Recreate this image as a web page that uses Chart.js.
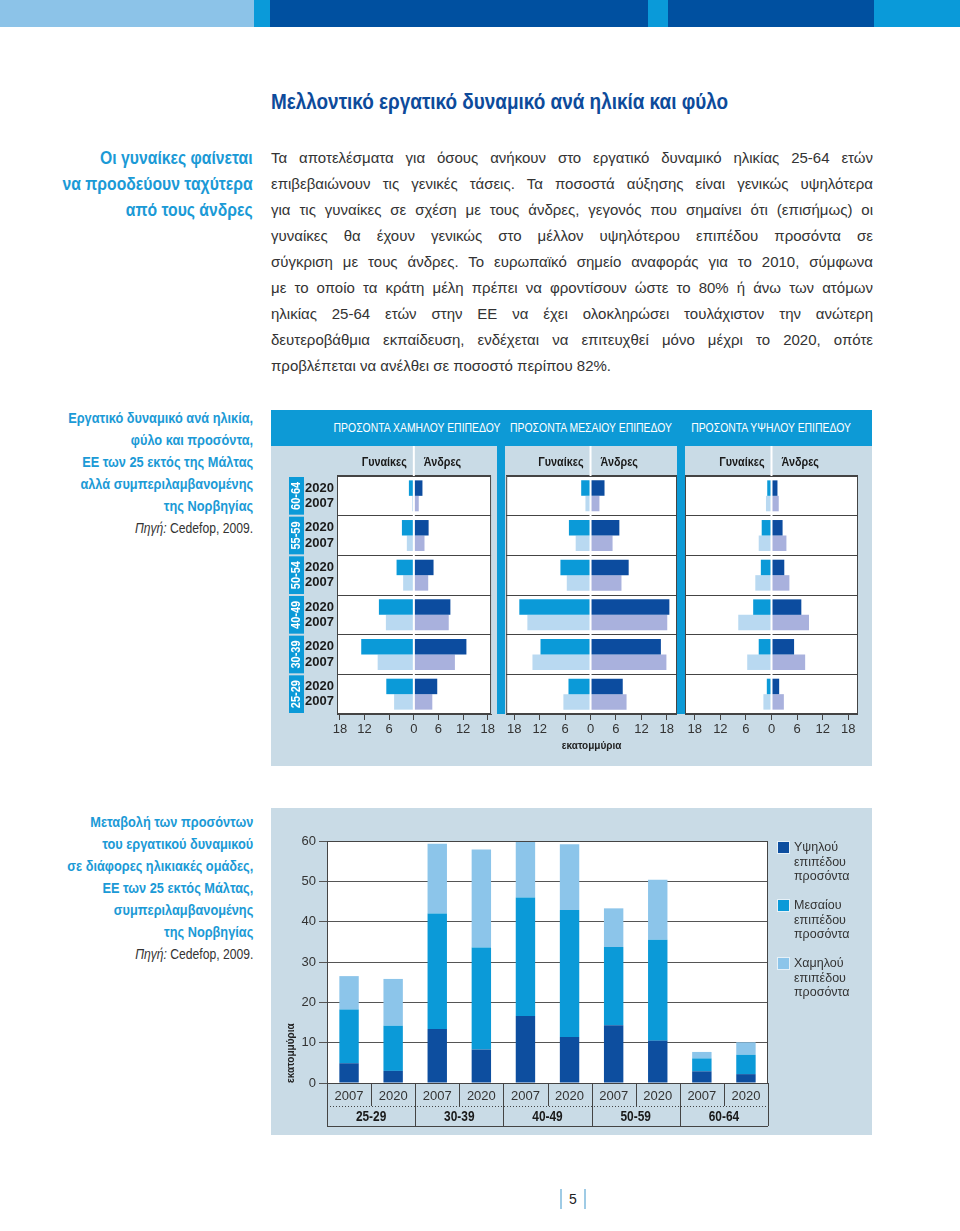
<!DOCTYPE html>
<html lang="el">
<head>
<meta charset="utf-8">
<title>Μελλοντικό εργατικό δυναμικό ανά ηλικία και φύλο</title>
<script src="https://cdn.jsdelivr.net/npm/chart.js@4.4.1/dist/chart.umd.min.js"></script>
<style>
  body { margin: 0; width: 960px; height: 1231px; position: relative; overflow: hidden; background: #fff;
         font-family: 'Liberation Sans', Arial, sans-serif; color: #333; }
  .abs { position: absolute; }
  #bar div { position: absolute; top: 0; height: 27px; }
  #title { left: 271px; top: 89px; font-size: 22px; font-weight: bold; color: #0d4b9b; white-space: nowrap;
           transform: scaleX(0.86); transform-origin: left center; }
  .side { right: 707px; text-align: right; color: #1b9ad6; font-weight: bold; white-space: nowrap;
          transform-origin: right top; }
  #lead { top: 145px; font-size: 18.5px; line-height: 26px; transform: scaleX(0.85); }
  #body { left: 271px; top: 145px; width: 602px; font-size: 15px; line-height: 26px; color: #333; }
  #body div { text-align: justify; text-align-last: justify; }
  #body div:last-child { text-align-last: left; }
  .cap { font-size: 14.5px; line-height: 22px; transform: scaleX(0.88); }
  .src { color: #333; font-weight: normal; font-size: 13.8px; }
  .panel { background: #c9dbe6; }
  .strip { background: #0d9ad6; }
  .head { top: 410px; width: 240px; height: 36px; line-height: 36px; color: #fff; font-size: 13px; text-align: center;
          white-space: nowrap; transform: scaleX(0.8); transform-origin: center; }
  canvas { position: absolute; }
  #legend { left: 777px; top: 840px; font-size: 12.5px; line-height: 14.5px; color: #333; }
  #legend .item { position: relative; height: 58px; padding-left: 17px; }
  #legend .sw { position: absolute; left: 0; top: 1px; width: 11px; height: 11px; border: 1px solid #e6f1f8; }
  #page { left: 560px; top: 1189px; width: 22px; height: 20px; border-left: 2px solid #9fcbe5;
          border-right: 2px solid #9fcbe5; text-align: center; font-size: 14px; line-height: 20px; color: #222; }
</style>
</head>
<body>
<div id="bar">
  <div style="left:0;width:254px;background:#8cc3e8"></div>
  <div style="left:254px;width:16px;background:#0a9ad9"></div>
  <div style="left:270px;width:378px;background:#0050a0"></div>
  <div style="left:648px;width:20px;background:#0a9ad9"></div>
  <div style="left:668px;width:206px;background:#0050a0"></div>
  <div style="left:874px;width:86px;background:#0a9ad9"></div>
</div>

<div id="title" class="abs">Μελλοντικό εργατικό δυναμικό ανά ηλικία και φύλο</div>

<div id="lead" class="abs side">Οι γυναίκες φαίνεται<br>να προοδεύουν ταχύτερα<br>από τους άνδρες</div>

<div id="body" class="abs">
  <div>Τα αποτελέσματα για όσους ανήκουν στο εργατικό δυναμικό ηλικίας 25-64 ετών</div>
  <div>επιβεβαιώνουν τις γενικές τάσεις. Τα ποσοστά αύξησης είναι γενικώς υψηλότερα</div>
  <div>για τις γυναίκες σε σχέση με τους άνδρες, γεγονός που σημαίνει ότι (επισήμως) οι</div>
  <div>γυναίκες θα έχουν γενικώς στο μέλλον υψηλότερου επιπέδου προσόντα σε</div>
  <div>σύγκριση με τους άνδρες. Το ευρωπαϊκό σημείο αναφοράς για το 2010, σύμφωνα</div>
  <div>με το οποίο τα κράτη μέλη πρέπει να φροντίσουν ώστε το 80% ή άνω των ατόμων</div>
  <div>ηλικίας 25-64 ετών στην ΕΕ να έχει ολοκληρώσει τουλάχιστον την ανώτερη</div>
  <div>δευτεροβάθμια εκπαίδευση, ενδέχεται να επιτευχθεί μόνο μέχρι το 2020, οπότε</div>
  <div>προβλέπεται να ανέλθει σε ποσοστό περίπου 82%.</div>
</div>

<div class="abs side cap" style="top:407px">Εργατικό δυναμικό ανά ηλικία,<br>φύλο και προσόντα,<br>ΕΕ των 25 εκτός της Μάλτας<br>αλλά συμπεριλαμβανομένης<br>της Νορβηγίας<br><span class="src"><i>Πηγή:</i> Cedefop, 2009.</span></div>

<div class="abs side cap" style="top:811px">Μεταβολή των προσόντων<br>του εργατικού δυναμικού<br>σε διάφορες ηλικιακές ομάδες,<br>ΕΕ των 25 εκτός Μάλτας,<br>συμπεριλαμβανομένης<br>της Νορβηγίας<br><span class="src"><i>Πηγή:</i> Cedefop, 2009.</span></div>

<!-- chart 1 frame -->
<div class="abs panel" style="left:271px;top:410px;width:601px;height:356px"></div>
<div class="abs strip" style="left:271px;top:410px;width:601px;height:36px"></div>
<div class="abs head" style="left:297px">ΠΡΟΣΟΝΤΑ ΧΑΜΗΛΟΥ ΕΠΙΠΕΔΟΥ</div>
<div class="abs head" style="left:471px">ΠΡΟΣΟΝΤΑ ΜΕΣΑΙΟΥ ΕΠΙΠΕΔΟΥ</div>
<div class="abs head" style="left:651px">ΠΡΟΣΟΝΤΑ ΥΨΗΛΟΥ ΕΠΙΠΕΔΟΥ</div>
<div class="abs strip" style="left:497px;top:446px;width:8px;height:268px"></div>
<div class="abs strip" style="left:677px;top:446px;width:8px;height:268px"></div>
<canvas id="p1" width="212" height="320" style="left:285px;top:446px"></canvas>
<canvas id="p2" width="172" height="320" style="left:505px;top:446px"></canvas>
<canvas id="p3" width="173" height="320" style="left:685px;top:446px"></canvas>

<!-- chart 2 frame -->
<div class="abs panel" style="left:271px;top:808px;width:601px;height:327px"></div>
<canvas id="c2" width="510" height="327" style="left:271px;top:808px"></canvas>
<div id="legend" class="abs"></div>

<div id="page" class="abs">5</div>

<script>
// ---- chart 1 data (millions) ----
const ages = ['60-64', '55-59', '50-54', '40-49', '30-39', '25-29'];
const years = ['2020', '2007'];
const sides = ['Γυναίκες', 'Άνδρες'];
const xTicks = [-18, -12, -6, 0, 6, 12, 18];

const lowWomen2020 = [1.2, 2.9, 4.2, 8.5, 12.8, 6.7];
const lowWomen2007 = [0.4, 1.7, 2.6, 6.8, 8.8, 4.8];
const lowMen2020 = [2.1, 3.6, 4.8, 8.9, 12.8, 5.7];
const lowMen2007 = [1.2, 2.6, 3.5, 8.5, 10.0, 4.5];

const midWomen2020 = [2.2, 5.1, 7.1, 16.8, 11.8, 5.2];
const midWomen2007 = [1.2, 3.5, 5.6, 14.9, 13.7, 6.4];
const midMen2020 = [3.3, 6.8, 9.0, 18.6, 16.6, 7.6];
const midMen2007 = [2.1, 5.2, 7.3, 18.1, 17.9, 8.5];

const highWomen2020 = [1.0, 2.3, 2.5, 4.3, 3.0, 1.1];
const highWomen2007 = [1.3, 3.0, 3.8, 7.8, 5.7, 1.9];
const highMen2020 = [1.4, 2.6, 3.0, 7.0, 5.3, 1.8];
const highMen2007 = [1.7, 3.5, 4.2, 8.8, 7.9, 2.9];

// ---- chart 2 data (millions) ----
const ageGroups2 = ['25-29', '30-39', '40-49', '50-59', '60-64'];
const years2 = ['2007', '2020'];
const highQual = [4.9, 3.0, 13.4, 8.3, 16.6, 11.4, 14.3, 10.5, 2.9, 2.2];
const mediumQual = [13.3, 11.2, 28.6, 25.3, 29.4, 31.5, 19.4, 25.0, 3.2, 4.8];
const lowQual = [8.3, 11.6, 17.3, 24.3, 14.0, 16.3, 9.6, 14.9, 1.6, 3.1];
const qualLabels = [['Υψηλού', 'επιπέδου', 'προσόντα'], ['Μεσαίου', 'επιπέδου', 'προσόντα'], ['Χαμηλού', 'επιπέδου', 'προσόντα']];

const SANS = "'Liberation Sans', Arial, sans-serif";
const C = { w2020: '#0b9ad8', w2007: '#b9d9f1', m2020: '#0c4c9f', m2007: '#a9b1dd', age: '#0b9ad8' };
const qualColors = ['#0d4e9f', '#0b9ad8', '#8cc5ea'];

Chart.defaults.font.family = SANS;

// no condensed face installed: squeeze text horizontally instead
function narrowText(ctx, text, x, y, align, font, sx, rot) {
    ctx.save();
    ctx.translate(x, y);
    if (rot) ctx.rotate(rot);
    ctx.scale(sx, 1);
    ctx.font = font;
    ctx.textAlign = align;
    ctx.textBaseline = 'middle';
    ctx.fillText(text, 0, 0);
    ctx.restore();
}

// white plot, zero divider, side titles, age boxes + year labels
const pyramidPlugin = {
    id: 'pyramid',
    beforeDraw(chart) {
        const { ctx, chartArea: a } = chart;
        ctx.save();
        ctx.fillStyle = '#fff';
        ctx.fillRect(a.left, a.top, a.right - a.left, a.bottom - a.top);
        ctx.restore();
    },
    afterDatasetsDraw(chart, args, opts) {
        const { ctx, chartArea: a, scales: { x, y } } = chart;
        const x0 = x.getPixelForValue(0);
        ctx.save();
        ctx.strokeStyle = '#fff';
        ctx.lineWidth = 2;
        ctx.beginPath();
        ctx.moveTo(x0, 0);
        ctx.lineTo(x0, a.bottom - 1);
        ctx.stroke();

        ctx.strokeStyle = '#444';
        ctx.lineWidth = 1;
        ctx.strokeRect(a.left + 0.5, a.top + 0.5, a.right - a.left - 1, a.bottom - a.top - 1);

        ctx.fillStyle = '#1a1a1a';
        narrowText(ctx, sides[0], x0 - 7, 16, 'right', 'bold 13.5px ' + SANS, 0.8);
        narrowText(ctx, sides[1], x0 + 10, 16, 'left', 'bold 13.5px ' + SANS, 0.8);

        if (opts.rowLabels) {
            const m0 = chart.getDatasetMeta(0).data;
            const m1 = chart.getDatasetMeta(1).data;
            const half = (y.getPixelForValue(1) - y.getPixelForValue(0)) / 2;
            ages.forEach((g, i) => {
                const yc = y.getPixelForValue(i);
                ctx.fillStyle = C.age;
                ctx.fillRect(a.left - 48, yc - half + 1, 15, half * 2 - 2);
                ctx.fillStyle = '#fff';
                narrowText(ctx, g, a.left - 40, yc, 'center', 'bold 12.5px ' + SANS, 0.88, -Math.PI / 2);
                ctx.fillStyle = '#1a1a1a';
                ctx.textAlign = 'right';
                ctx.textBaseline = 'middle';
                ctx.font = 'bold 13px ' + SANS;
                ctx.fillText(years[0], a.left - 3, m0[i].y);
                ctx.fillText(years[1], a.left - 3, m1[i].y);
            });
        }
        ctx.restore();
    }
};

function pyramidChart(id, women2020, women2007, men2020, men2007, range, padLeft, rowLabels, unit) {
    return new Chart(document.getElementById(id), {
        type: 'bar',
        data: {
            labels: ages,
            datasets: [
                { label: sides[0] + ' ' + years[0], data: women2020.map(v => -v), backgroundColor: C.w2020, stack: 'a' },
                { label: sides[0] + ' ' + years[1], data: women2007.map(v => -v), backgroundColor: C.w2007, stack: 'b' },
                { label: sides[1] + ' ' + years[0], data: men2020, backgroundColor: C.m2020, stack: 'a' },
                { label: sides[1] + ' ' + years[1], data: men2007, backgroundColor: C.m2007, stack: 'b' }
            ]
        },
        options: {
            indexAxis: 'y',
            responsive: false,
            animation: false,
            layout: { padding: { left: padLeft, right: 0, top: 30, bottom: 0 } },
            datasets: { bar: { categoryPercentage: 0.78, barPercentage: 1 } },
            plugins: { legend: { display: false }, tooltip: { enabled: false }, pyramid: { rowLabels } },
            scales: {
                x: {
                    stacked: true,
                    min: range[0],
                    max: range[1],
                    afterBuildTicks: s => { s.ticks = xTicks.map(v => ({ value: v })); },
                    afterFit: s => { s.height = 52; },
                    ticks: { callback: v => Math.abs(v), color: '#333', font: { size: 13 }, padding: 2, maxRotation: 0, autoSkip: false },
                    grid: { drawOnChartArea: false, drawTicks: true, tickLength: 6, color: '#444' },
                    border: { display: true, color: '#444' },
                    title: { display: !!unit, text: unit || '', color: '#222', font: { size: 10, weight: 'bold' }, padding: { top: 0, bottom: 14 } }
                },
                y: {
                    stacked: true,
                    afterFit: s => { s.width = 0; },
                    ticks: { display: false },
                    grid: { offset: true, color: '#444', drawTicks: false },
                    border: { display: false }
                }
            }
        },
        plugins: [pyramidPlugin]
    });
}

pyramidChart('p1', lowWomen2020, lowWomen2007, lowMen2020, lowMen2007, [-18.7, 18.8], 52, true, null);
pyramidChart('p2', midWomen2020, midWomen2007, midMen2020, midMen2007, [-19.9, 20.4], 0, false, 'εκατομμύρια');
pyramidChart('p3', highWomen2020, highWomen2007, highMen2020, highMen2007, [-20.3, 20.3], 0, false, null);

// table below the stacked bars: year cells, dotted rule, age group cells
const tablePlugin = {
    id: 'table',
    beforeDraw(chart) {
        const { ctx, chartArea: a } = chart;
        ctx.save();
        ctx.fillStyle = '#fff';
        ctx.fillRect(a.left, a.top, a.right - a.left, a.bottom - a.top);
        ctx.restore();
    },
    afterDraw(chart) {
        const { ctx, chartArea: a, scales: { x } } = chart;
        const step = x.getPixelForValue(1) - x.getPixelForValue(0);
        const y0 = a.bottom, y1 = y0 + 23, y2 = y0 + 43;
        ctx.save();
        ctx.strokeStyle = '#444';
        ctx.lineWidth = 1;
        ctx.strokeRect(a.left + 0.5, a.top + 0.5, a.right - a.left - 1, a.bottom - a.top);
        for (let i = 0; i <= x.ticks.length; i++) {
            const px = Math.round(x.getPixelForValue(i) - step / 2) + 0.5;
            ctx.beginPath();
            ctx.moveTo(px, y0);
            ctx.lineTo(px, i % years2.length === 0 ? y2 : y1);
            ctx.stroke();
        }
        ctx.beginPath();
        ctx.moveTo(a.left, y2 + 0.5);
        ctx.lineTo(a.right, y2 + 0.5);
        ctx.stroke();
        ctx.setLineDash([1, 2]);
        ctx.beginPath();
        ctx.moveTo(a.left, y1 + 0.5);
        ctx.lineTo(a.right, y1 + 0.5);
        ctx.stroke();
        ctx.setLineDash([]);
        ctx.fillStyle = '#1a1a1a';
        ageGroups2.forEach((g, k) => {
            const cx = (x.getPixelForValue(k * 2) + x.getPixelForValue(k * 2 + 1)) / 2;
            narrowText(ctx, g, cx, (y1 + y2) / 2 + 1, 'center', 'bold 14px ' + SANS, 0.85);
        });
        ctx.restore();
    }
};

const qualData = [highQual, mediumQual, lowQual];

new Chart(document.getElementById('c2'), {
    type: 'bar',
    data: {
        labels: ageGroups2.flatMap(() => years2),
        datasets: qualData.map((d, i) => ({
            label: qualLabels[i].join(' '),
            data: d,
            backgroundColor: qualColors[i]
        }))
    },
    options: {
        responsive: false,
        animation: false,
        layout: { padding: { left: 0, right: 13, top: 33, bottom: 0 } },
        datasets: { bar: { barPercentage: 0.44, categoryPercentage: 1 } },
        plugins: { legend: { display: false }, tooltip: { enabled: false } },
        scales: {
            x: {
                stacked: true,
                afterFit: s => { s.height = 52; },
                grid: { display: false, drawTicks: false },
                border: { display: false },
                ticks: { color: '#333', font: { size: 13 }, padding: 6, maxRotation: 0, autoSkip: false }
            },
            y: {
                stacked: true,
                min: 0,
                max: 60,
                afterFit: s => { s.width = 56; },
                ticks: { stepSize: 10, color: '#333', font: { size: 13 }, padding: 3 },
                grid: { color: '#555', tickLength: 8 },
                border: { color: '#444' },
                title: { display: true, text: 'εκατομμύρια', align: 'start', color: '#222',
                         font: { size: 10, weight: 'bold' }, padding: { top: 14, bottom: 0 } }
            }
        }
    },
    plugins: [tablePlugin]
});

// legend (html, built from the same labels & colours)
const legend = document.getElementById('legend');
qualLabels.forEach((lines, i) => {
    const item = document.createElement('div');
    item.className = 'item';
    item.innerHTML = '<span class="sw" style="background:' + qualColors[i] + '"></span>' + lines.join('<br>');
    legend.appendChild(item);
});
</script>
</body>
</html>
